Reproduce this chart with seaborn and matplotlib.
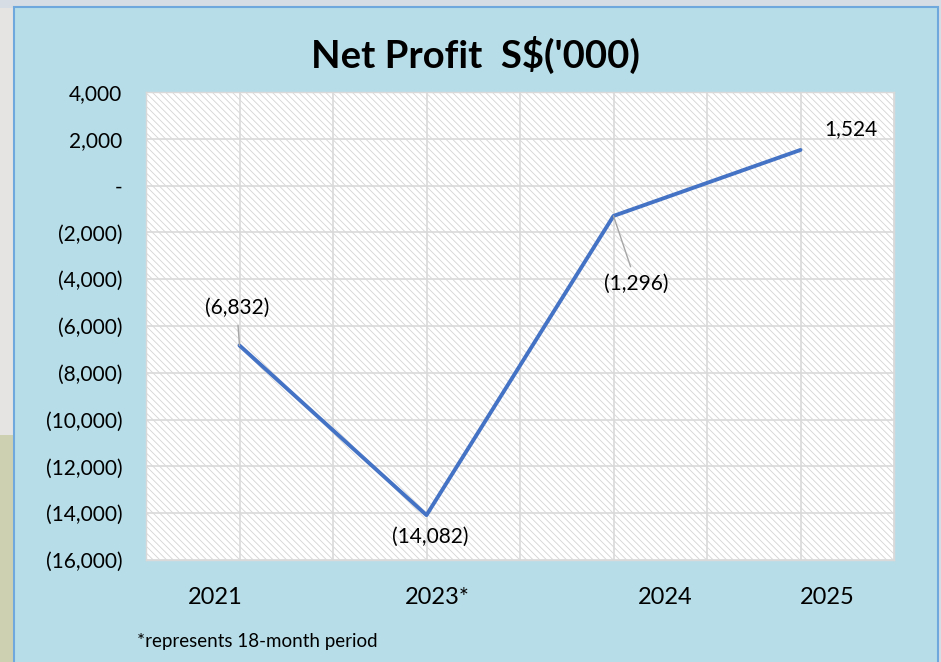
"""
Net Profit S$('000) line chart
"""

import matplotlib
matplotlib.use("Agg")
import matplotlib.pyplot as plt
import matplotlib.ticker as mticker
from matplotlib.patches import Rectangle
import matplotlib.transforms as mtransforms
import pandas as pd
import seaborn as sns

years = ["2021", "2023*", "2024", "2025"]
net_profit = [-6832, -14082, -1296, 1524]
y_ticks = list(range(-16000, 4001, 2000))
footnote = "*represents 18-month period"

df = pd.DataFrame({"year": years, "profit": net_profit})
df["pos"] = [2 * i + 1 for i in range(len(years))]

sns.set_style("white")
plt.rcParams["font.family"] = ["Lato", "DejaVu Sans"]
plt.rcParams["text.color"] = "black"
plt.rcParams["hatch.color"] = "#d4d4d4"
plt.rcParams["hatch.linewidth"] = 0.6

W, H = 941, 662
fig = plt.figure(figsize=(W / 100, H / 100), dpi=100, facecolor="#d6dde4")

# page behind the chart box
fig.patches.append(Rectangle((0, 0), 14 / W, 227 / H, transform=fig.transFigure,
                             facecolor="#cdd1b2", edgecolor="none", zorder=-2))
fig.patches.append(Rectangle((0, 227 / H), 14 / W, 1 - 235 / H, transform=fig.transFigure,
                             facecolor="#e6e4e3", edgecolor="none", zorder=-2))
fig.patches.append(Rectangle((14 / W, -0.01), 924 / W, 1 - 7 / H + 0.01, transform=fig.transFigure,
                             facecolor="#b7dde8", edgecolor="#6fa8dc", lw=1.5, zorder=-1))

ax = fig.add_axes([146 / W, 1 - 560 / H, (894 - 146) / W, (560 - 92) / H])
ax.patch.set_facecolor("white")
ax.add_patch(Rectangle((0, 0), 1, 1, transform=ax.transAxes, facecolor="white",
                       edgecolor="#d4d4d4", lw=0, hatch="\\" * 5, zorder=0))

sns.lineplot(data=df, x="pos", y="profit", ax=ax, color="#4472C4", linewidth=2.8, zorder=3)

ax.set_xlim(0, 8)
ax.set_ylim(-16000, 4000)
ax.set_xticks(range(0, 9))
ax.set_yticks(y_ticks)
ax.grid(True, color="#d9d9d9", linewidth=1.2, zorder=1)
ax.set_axisbelow(True)
ax.tick_params(axis="both", length=0)
ax.tick_params(axis="y", pad=17, labelsize=15, labelcolor="black")
ax.set_xticklabels([])
ax.set_xlabel("")
ax.set_ylabel("")
for s in ax.spines.values():
    s.set_color("#d9d9d9")
    s.set_linewidth(1)


def acct(v, _):
    if v == 0:
        return "-"
    if v < 0:
        return f"({abs(v):,.0f})"
    return f"{v:,.0f}"


ax.yaxis.set_major_formatter(mticker.FuncFormatter(acct))

# year labels sit a bit off the points in the original
trans = mtransforms.blended_transform_factory(ax.transData, ax.transAxes)
label_x = [0.74, 3.12, 5.55, 7.29]
for lx, yr in zip(label_x, years):
    ax.text(lx, -0.081, yr, transform=trans, ha="center", va="center", fontsize=17)

# data labels
offsets = [(-2, 27), (3, -16), (16.5, -49), (36, 15)]
leaders = [True, False, True, False]
for x, y, off, lead in zip(df["pos"], df["profit"], offsets, leaders):
    arrow = dict(arrowstyle="-", color="#a6a6a6", lw=1, shrinkA=3, shrinkB=0) if lead else None
    ax.annotate(acct(y, None), xy=(x, y), xytext=off, textcoords="offset points",
                ha="center", va="center", fontsize=15, arrowprops=arrow, zorder=4)

fig.text(475 / W, 1 - 55 / H, "Net Profit  S$('000)", ha="center", va="center",
         fontsize=27.5, fontweight="bold")
fig.text(137 / W, 1 - 641 / H, footnote, ha="left", va="center", fontsize=13.5)

fig.savefig("out.png", dpi=100, facecolor=fig.get_facecolor())
plt.close(fig)
print("Saved out.png")
